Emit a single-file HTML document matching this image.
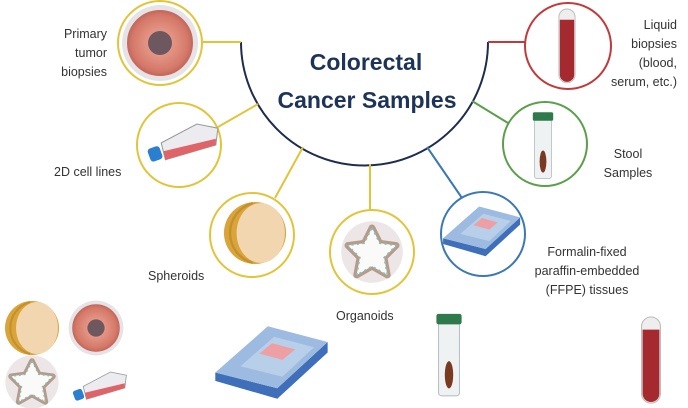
<!DOCTYPE html>
<html><head><meta charset="utf-8"><style>
html,body{margin:0;padding:0;background:#fff;}
svg{display:block;}
text{font-family:"Liberation Sans",sans-serif;}
.l{font-size:12.5px;fill:#333;}
</style></head><body>
<svg width="688" height="408" viewBox="0 0 688 408" xmlns="http://www.w3.org/2000/svg">
<defs>
<radialGradient id="tum" cx="50%" cy="50%" r="50%"><stop offset="0.3" stop-color="#e79a8a"/><stop offset="0.85" stop-color="#d57a6a"/><stop offset="1" stop-color="#c96b5e"/></radialGradient>
<g id="tumor"><circle r="38" fill="#e6e3e6"/><circle r="32" fill="url(#tum)" stroke="#c56a5c" stroke-width="2"/><circle r="12" fill="#6e5860"/></g>
<g id="sph"><circle r="27" fill="#d9a43a"/><ellipse cx="5" cy="0" rx="21" ry="26" fill="#f1d6b0"/><path d="M-2,-26 A27,27 0 0 0 -2,26" fill="none" stroke="#c4902c" stroke-width="2"/></g>
<g id="org"><circle r="28" fill="#ece6e6"/><path d="M0,-22 L7,-8 L22,-6 L11,5 L14,21 L0,13 L-14,21 L-11,5 L-22,-6 L-7,-8Z" fill="#f7f5f3" stroke="#b79a8a" stroke-width="6" stroke-linejoin="round"/><path d="M0,-22 L7,-8 L22,-6 L11,5 L14,21 L0,13 L-14,21 L-11,5 L-22,-6 L-7,-8Z" fill="#fafaf8" stroke="#7fc2c0" stroke-width="1.5" stroke-dasharray="2 3"/></g>
<g id="flask"><path d="M-16,-2 L18,-20 L38,-16 L36,0 L-12,14Z" fill="#ececf0" stroke="#999" stroke-width="1"/><path d="M-14,6 L36,-6 L36,0 L-12,14Z" fill="#e06467"/><rect x="-28" y="2" width="12" height="13" rx="3" fill="#2a7fd0" transform="rotate(-20 -22 8)"/></g>
<g id="slide"><path d="M-54,10 L-54,18 L5,35 L53,-9 L53,-19 L5,25Z" fill="#3e6fb8"/><path d="M-54,10 L-4,-34 L53,-19 L5,25Z" fill="#9dbbe0"/><path d="M-30,4 L2,-24 L40,-14 L10,14Z" fill="#b8cfe9"/><path d="M-12,-8 L0,-18 L22,-12 L10,-2Z" fill="#ee9fa4"/></g>
<g id="stool"><rect x="-10" y="-34" width="20" height="70" rx="3" fill="#eef2f3" stroke="#b8c0c4"/><rect x="-12" y="-42" width="24" height="10" rx="2" fill="#2f7a4a"/><ellipse cx="0" cy="16" rx="4" ry="13" fill="#7a3a22"/></g>
<g id="blood"><rect x="-9" y="-40" width="18" height="82" rx="9" fill="#eee" stroke="#bbb"/><path d="M-8,-28 H8 V33 A8,8 0 0 1 -8,33Z" fill="#a52a2f"/></g>
</defs>

<path d="M241,42 A123.5,123.5 0 0 0 488,42" fill="none" stroke="#1e2c4e" stroke-width="2"/>
<text x="366" y="70" text-anchor="middle" font-size="23" font-weight="bold" fill="#1e3358">Colorectal</text>
<text x="367" y="108" text-anchor="middle" font-size="23" font-weight="bold" fill="#1e3358">Cancer Samples</text>

<g stroke-width="2" fill="none">
<line x1="241" y1="42" x2="202" y2="42" stroke="#e2c43a"/>
<line x1="258" y1="104" x2="218" y2="127" stroke="#e2c43a"/>
<line x1="303" y1="147" x2="275" y2="198" stroke="#e2c43a"/>
<line x1="370" y1="164" x2="370" y2="210" stroke="#e2c43a"/>
<line x1="427" y1="147" x2="462" y2="198" stroke="#3b78b4"/>
<line x1="472" y1="101" x2="508" y2="123" stroke="#5aa04a"/>
<line x1="488" y1="42" x2="525" y2="42" stroke="#c0393b"/>
<circle cx="160" cy="43" r="42" stroke="#e2c43a"/>
<circle cx="179" cy="145" r="42" stroke="#e2c43a"/>
<circle cx="252" cy="235" r="42" stroke="#e2c43a"/>
<circle cx="372" cy="252" r="42" stroke="#e2c43a"/>
<circle cx="483" cy="234" r="42" stroke="#3b78b4"/>
<circle cx="545" cy="144" r="42" stroke="#5aa04a"/>
<circle cx="568" cy="46" r="43" stroke="#c0393b"/>
</g>

<use href="#tumor" transform="translate(160,43)"/>
<use href="#flask" transform="translate(178,145) scale(1.05)"/>
<use href="#sph" transform="translate(255,233) scale(1.15)"/>
<use href="#org" transform="translate(372,252) scale(1.1)"/>
<use href="#slide" transform="translate(482,231) scale(0.72)"/>
<use href="#stool" transform="translate(543,148) scale(0.85)"/>
<use href="#blood" transform="translate(567,45) scale(0.9)"/>

<use href="#sph" transform="translate(32,328)"/>
<use href="#tumor" transform="translate(96,328) scale(0.72)"/>
<use href="#org" transform="translate(32,382) scale(0.95)"/>
<use href="#flask" transform="translate(96,388) scale(0.8)"/>
<use href="#slide" transform="translate(272,362) scale(1.05)"/>
<use href="#stool" transform="translate(449,358) scale(1.05)"/>
<use href="#blood" transform="translate(651,359) scale(1.05)"/>

<text class="l" text-anchor="end"><tspan x="107" y="38">Primary</tspan><tspan x="107" y="57">tumor</tspan><tspan x="107" y="76">biopsies</tspan></text>
<text class="l" x="54" y="176">2D cell lines</text>
<text class="l" x="148" y="280">Spheroids</text>
<text class="l" x="336" y="320">Organoids</text>
<text class="l" text-anchor="middle"><tspan x="587" y="256">Formalin-fixed</tspan><tspan x="587" y="275">paraffin-embedded</tspan><tspan x="587" y="294">(FFPE) tissues</tspan></text>
<text class="l" text-anchor="middle"><tspan x="628" y="158">Stool</tspan><tspan x="628" y="177">Samples</tspan></text>
<text class="l" text-anchor="end"><tspan x="677" y="29">Liquid</tspan><tspan x="677" y="48">biopsies</tspan><tspan x="677" y="67">(blood,</tspan><tspan x="677" y="86">serum,  etc.)</tspan></text>
</svg>
</body></html>
